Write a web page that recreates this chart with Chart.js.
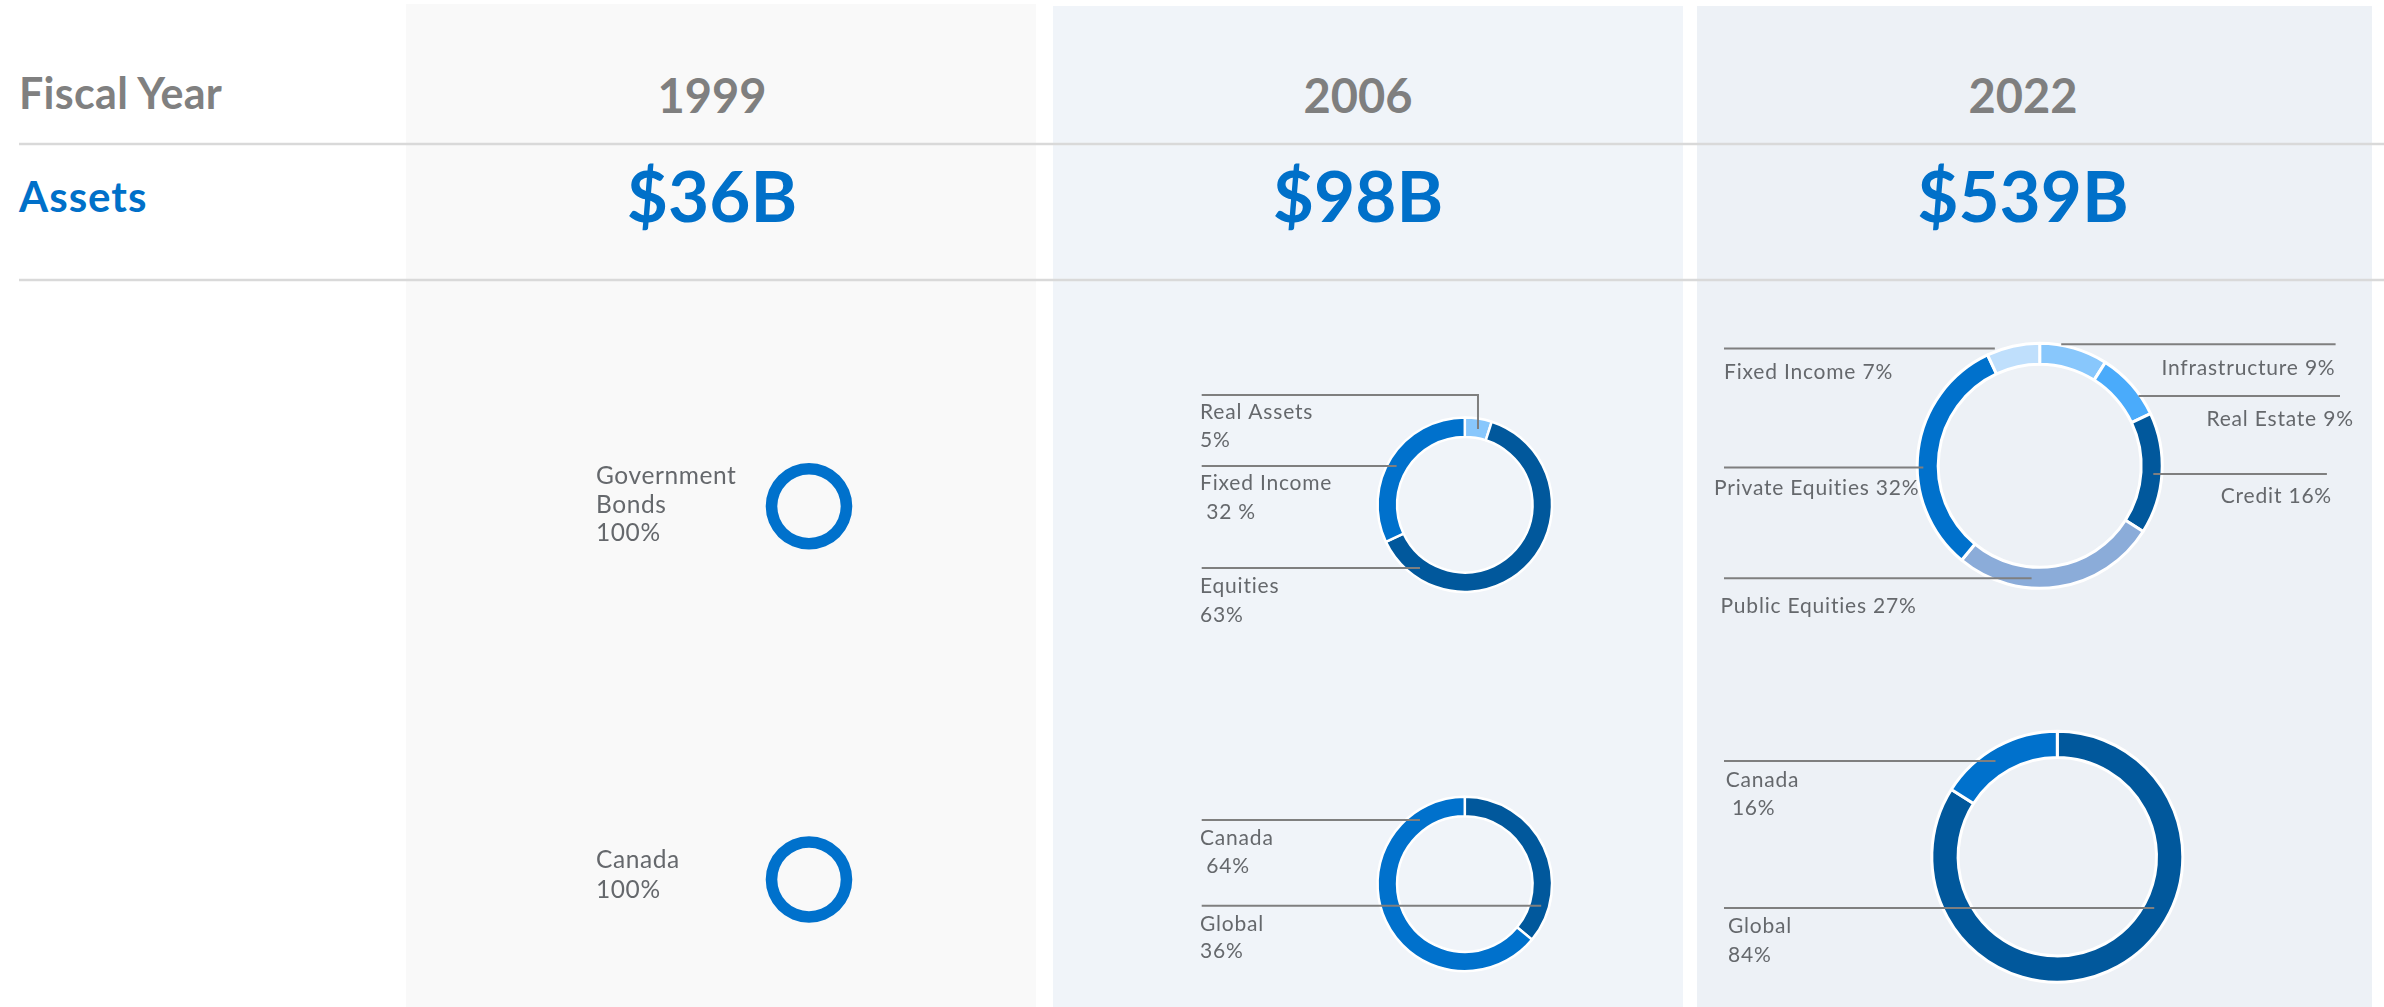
<!DOCTYPE html>
<html>
<head>
<meta charset="utf-8">
<script src="https://cdn.jsdelivr.net/npm/chart.js@4.4.0/dist/chart.umd.min.js"></script>
<style>
  html, body { margin: 0; padding: 0; background: #ffffff; width: 2384px; height: 1007px; overflow: hidden; }
  .col { position: absolute; bottom: 0; }
  canvas { position: absolute; }
  svg { position: absolute; left: 0; top: 0; }
</style>
</head>
<body>
<div class="col" style="left:406px; top:4px; width:630px; background:#f9f9f9;"></div>
<div class="col" style="left:1053px; top:6px; width:630px; background:#f0f4f9;"></div>
<div class="col" style="left:1697px; top:6px; width:675px; background:#edf1f6;"></div>
<svg id="head" width="2384" height="1007" xmlns="http://www.w3.org/2000/svg"></svg>
<canvas id="c1999a"></canvas>
<canvas id="c1999r"></canvas>
<canvas id="c2006a"></canvas>
<canvas id="c2006r"></canvas>
<canvas id="c2022a"></canvas>
<canvas id="c2022r"></canvas>
<script>
// ---------------- DATA ----------------
const rowTitles = ["Fiscal Year", "Assets"];
const fiscalYears = ["1999", "2006", "2022"];
const totalAssets = ["$36B", "$98B", "$539B"];

const assetClasses1999 = ["Government Bonds"];
const assetValues1999 = [100];
const regions1999 = ["Canada"];
const regionValues1999 = [100];

const assetClasses2006 = ["Real Assets", "Equities", "Fixed Income"];
const assetValues2006 = [5, 63, 32];
const regions2006 = ["Global", "Canada"];
const regionValues2006 = [36, 64];

const assetClasses2022 = ["Infrastructure", "Real Estate", "Credit", "Public Equities", "Private Equities", "Fixed Income"];
const assetValues2022 = [9, 9, 16, 27, 32, 7];
const regions2022 = ["Global", "Canada"];
const regionValues2022 = [84, 16];

// label texts as shown
const labelText1999Assets = [["Government", "Bonds", "100%"]];
const labelText1999Regions = [["Canada", "100%"]];
const labelText2006Assets = [["Real Assets", "5%"], ["Equities", "63%"], ["Fixed Income", " 32 %"]];
const labelText2006Regions = [["Global", "36%"], ["Canada", " 64%"]];
const labelText2022Assets = [["Infrastructure 9%"], ["Real Estate 9%"], ["Credit 16%"], ["Public Equities 27%"], ["Private Equities 32%"], ["Fixed Income 7%"]];
const labelText2022Regions = [["Global", "84%"], ["Canada", " 16%"]];

// ---------------- STYLE / LAYOUT ----------------
const C = {
  dark: "#01589c", mid: "#0071cc", light: "#88c7fc", sky: "#4aabfb",
  pale: "#bfdffc", lav: "#8bacd9"
};
const colors1999 = [C.mid];
const colors2006Assets = [C.light, C.dark, C.mid];
const colors2006Regions = [C.dark, C.mid];
const colors2022Assets = [C.light, C.sky, C.dark, C.lav, C.mid, C.pale];
const colors2022Regions = [C.dark, C.mid];

const FONT = "Lato";
const textColor = "#65686c";
const lineColor = "#7f7f7f";

// header (SVG text)
const svg = document.getElementById("head");
function svgEl(tag, attrs, text) {
  const e = document.createElementNS("http://www.w3.org/2000/svg", tag);
  for (const k in attrs) e.setAttribute(k, attrs[k]);
  if (text !== undefined) e.textContent = text;
  svg.appendChild(e);
  return e;
}
svgEl("line", { x1: 19, y1: 144, x2: 2384, y2: 144, stroke: "#d9d9d9", "stroke-width": 2.5 });
svgEl("line", { x1: 19, y1: 280, x2: 2384, y2: 280, stroke: "#d9d9d9", "stroke-width": 2.5 });
svgEl("text", { x: 19, y: 108.5, "font-family": FONT, "font-weight": 700, "font-size": 43, "letter-spacing": 0.3, fill: "#808080" }, rowTitles[0]);
svgEl("text", { x: 19, y: 211.5, "font-family": FONT, "font-weight": 700, "font-size": 42, "letter-spacing": 1, fill: "#0070c9" }, rowTitles[1]);
const colCenters = [712, 1358, 2023];
fiscalYears.forEach((y, i) => {
  svgEl("text", { x: colCenters[i], y: 113.3, "text-anchor": "middle", "font-family": FONT, "font-weight": 700, "font-size": 47, fill: "#7f7f7f" }, y);
});
totalAssets.forEach((a, i) => {
  svgEl("text", { x: colCenters[i], y: 221.7, "text-anchor": "middle", "font-family": FONT, "font-weight": 700, "font-size": 71, fill: "#0070c9" }, a);
});

// ---------------- leader-label plugin ----------------
const leaderPlugin = {
  id: "leaderLabels",
  afterDatasetsDraw(chart) {
    const L = chart.options.plugins.leaderLabels;
    if (!L) return;
    const ctx = chart.ctx;
    const meta = chart.getDatasetMeta(0);
    const ox = L.box.x, oy = L.box.y;
    ctx.save();
    L.items.forEach((it, i) => {
      const arc = meta.data[i];
      if (it.leader && arc) {
        const p = arc.getProps(["x", "y", "startAngle", "endAngle", "innerRadius", "outerRadius"], true);
        const a = p.startAngle + it.leader.t * (p.endAngle - p.startAngle);
        const rho = p.innerRadius + it.leader.rf * (p.outerRadius - p.innerRadius);
        const ex = p.x + rho * Math.cos(a), ey = p.y + rho * Math.sin(a);
        ctx.beginPath();
        ctx.strokeStyle = lineColor;
        ctx.lineWidth = 2;
        if (it.leader.elbowY != null) {
          const yy = it.leader.elbowY - oy;
          ctx.moveTo(it.leader.x0 - ox, yy);
          ctx.lineTo(ex, yy);
          ctx.lineTo(ex, ey);
        } else if (it.leader.x0 != null) {
          ctx.moveTo(it.leader.x0 - ox, ey);
          ctx.lineTo(ex, ey);
        } else {
          ctx.moveTo(ex, ey);
          ctx.lineTo(it.leader.x1 - ox, ey);
        }
        ctx.stroke();
      }
      ctx.fillStyle = textColor;
      ctx.font = L.fontSize + "px " + FONT;
      ctx.letterSpacing = (L.letterSpacing || 0) + "px";
      ctx.textAlign = it.align || "left";
      ctx.textBaseline = "alphabetic";
      L.texts[i].forEach((s, k) => ctx.fillText(s, it.x - ox, it.baselines[k] - oy));
    });
    ctx.restore();
  }
};

function makeDonut(id, box, geo, labels, values, colors, texts, items, fontSize, letterSpacing) {
  const cv = document.getElementById(id);
  cv.width = box.w; cv.height = box.h;
  cv.style.left = box.x + "px"; cv.style.top = box.y + "px";
  const bw = geo.bw;
  const R = geo.R + bw / 2, r = geo.r - bw / 2;
  const cx = geo.cx - box.x, cy = geo.cy - box.y;
  const m = R + 4;
  const pad = { left: cx - m, right: box.w - cx - m, top: cy - m, bottom: box.h - cy - m };
  new Chart(cv, {
    type: "doughnut",
    data: {
      labels: labels,
      datasets: [{ data: values, backgroundColor: colors, borderColor: "#ffffff", borderWidth: bw, hoverOffset: 0 }]
    },
    options: {
      responsive: false,
      animation: false,
      events: [],
      radius: R,
      cutout: (r / R * 100) + "%",
      layout: { padding: pad },
      plugins: {
        legend: { display: false },
        tooltip: { enabled: false },
        leaderLabels: { box: box, items: items, texts: texts, fontSize: fontSize, letterSpacing: letterSpacing }
      }
    },
    plugins: [leaderPlugin]
  });
}

// 1999
makeDonut("c1999a", { x: 406, y: 290, w: 630, h: 400 }, { cx: 809, cy: 506.3, R: 43.3, r: 31.7, bw: 0 },
  assetClasses1999, assetValues1999, colors1999, labelText1999Assets,
  [{ x: 596, baselines: [484.3, 513, 541] }], 24.5, 0.6);
makeDonut("c1999r", { x: 406, y: 690, w: 630, h: 317 }, { cx: 809, cy: 879.5, R: 43.3, r: 31.7, bw: 0 },
  regions1999, regionValues1999, colors1999, labelText1999Regions,
  [{ x: 596, baselines: [867.7, 897.7] }], 24.5, 0.6);

// 2006
makeDonut("c2006a", { x: 1053, y: 290, w: 630, h: 400 }, { cx: 1464.8, cy: 504.7, R: 86, r: 69, bw: 2.5 },
  assetClasses2006, assetValues2006, colors2006Assets, labelText2006Assets,
  [
    { x: 1200, baselines: [419.3, 447.3], leader: { t: 0.55, rf: 0.46, x0: 1201.7, elbowY: 395 } },
    { x: 1200, baselines: [593.3, 621.7], leader: { t: 0.87, rf: 0.5, x0: 1201.7 } },
    { x: 1200, baselines: [490, 518.7], leader: { t: 0.476, rf: 0.55, x0: 1201.7 } }
  ], 21, 0.8);
makeDonut("c2006r", { x: 1053, y: 690, w: 630, h: 317 }, { cx: 1464.8, cy: 884, R: 86, r: 69, bw: 2.5 },
  regions2006, regionValues2006, colors2006Regions, labelText2006Regions,
  [
    { x: 1200, baselines: [931, 958.3], leader: { t: 0.817, rf: 0.6, x0: 1201.7 } },
    { x: 1200, baselines: [845, 872.7], leader: { t: 0.848, rf: 0.53, x0: 1201.7 } }
  ], 21, 0.8);

// 2022
makeDonut("c2022a", { x: 1697, y: 290, w: 675, h: 400 }, { cx: 2039.7, cy: 465.8, R: 121, r: 103, bw: 3 },
  assetClasses2022, assetValues2022, colors2022Assets, labelText2022Assets,
  [
    { x: 2335.5, align: "right", baselines: [375], leader: { t: 0.31, rf: 1.04, x1: 2335.6 } },
    { x: 2353.8, align: "right", baselines: [426], leader: { t: 0.69, rf: 0.93, x1: 2340 } },
    { x: 2332, align: "right", baselines: [503.3], leader: { t: 0.51, rf: 0.59, x1: 2326.9 } },
    { x: 1720.5, baselines: [612.7], leader: { t: 0.635, rf: 0.54, x0: 1724 } },
    { x: 1714, baselines: [495], leader: { t: 0.43, rf: 0.71, x0: 1724 } },
    { x: 1724, baselines: [379.3], leader: { t: 0.17, rf: 1.15, x0: 1724 } }
  ], 21, 0.8);
makeDonut("c2022r", { x: 1697, y: 690, w: 675, h: 317 }, { cx: 2057.3, cy: 856.7, R: 124, r: 100.7, bw: 3 },
  regions2022, regionValues2022, colors2022Regions, labelText2022Regions,
  [
    { x: 1728, baselines: [933.3, 961.7], leader: { t: 0.39, rf: 0.40, x0: 1724 } },
    { x: 1725.7, baselines: [787.3, 815], leader: { t: 0.43, rf: 0.56, x0: 1724 } }
  ], 21, 0.8);
</script>
</body>
</html>
